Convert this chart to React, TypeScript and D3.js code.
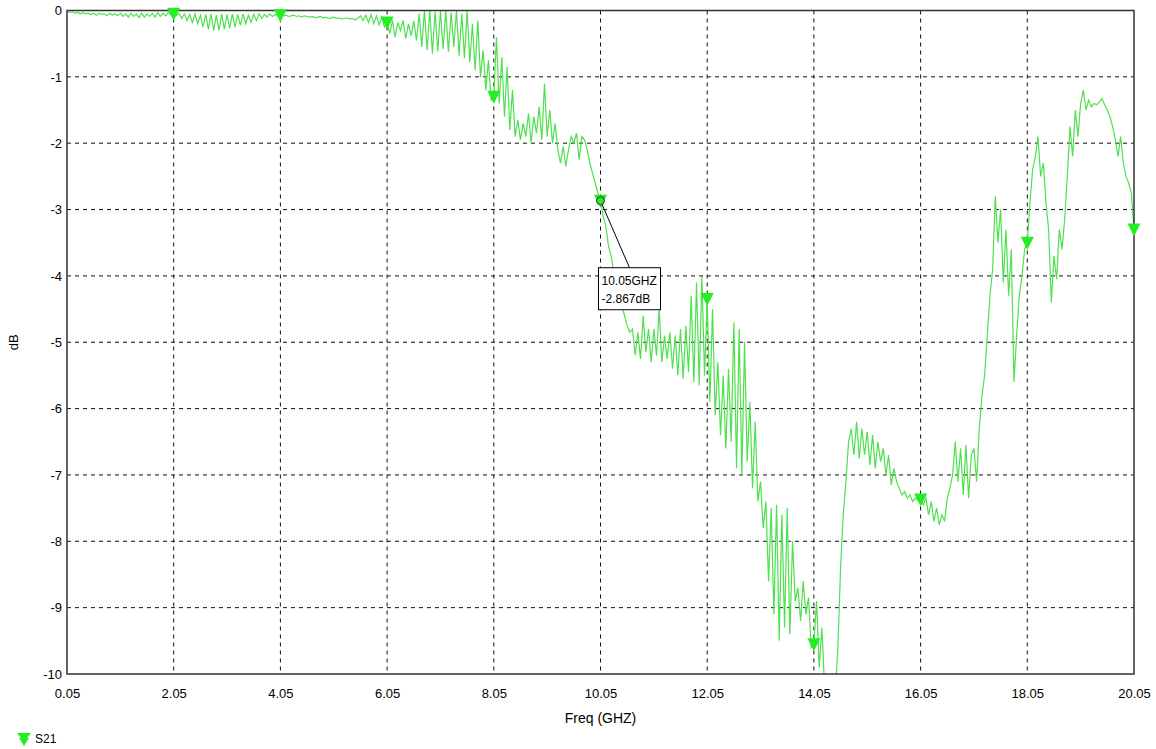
import React, { useEffect, useRef } from 'react'
import * as d3 from 'd3'

// S21 trace, one value every 0.05 GHz starting at 0.05 GHz (one row per GHz)
const s21Db = [
  -0.02, -0.03, -0.02, -0.04, -0.03, -0.05, -0.03, -0.05, -0.04, -0.06, -0.04, -0.07, -0.04, -0.06, -0.05, -0.08, -0.04, -0.07, -0.05, -0.08,
  -0.04, -0.09, -0.05, -0.1, -0.04, -0.09, -0.05, -0.11, -0.04, -0.1, -0.05, -0.09, -0.04, -0.1, -0.03, -0.09, -0.04, -0.08, -0.03, -0.07,
  -0.05, -0.08, -0.04, -0.12, -0.05, -0.15, -0.06, -0.18, -0.05, -0.2, -0.07, -0.25, -0.06, -0.28, -0.05, -0.3, -0.07, -0.3, -0.05, -0.28,
  -0.06, -0.27, -0.05, -0.25, -0.06, -0.22, -0.05, -0.2, -0.07, -0.18, -0.06, -0.15, -0.05, -0.12, -0.06, -0.1, -0.05, -0.09, -0.06, -0.08,
  -0.07, -0.08, -0.07, -0.09, -0.08, -0.07, -0.09, -0.08, -0.1, -0.08, -0.09, -0.1, -0.09, -0.11, -0.1, -0.09, -0.11, -0.1, -0.12, -0.11,
  -0.1, -0.12, -0.11, -0.13, -0.12, -0.11, -0.13, -0.12, -0.14, -0.12, -0.08, -0.15, -0.07, -0.18, -0.06, -0.2, -0.08, -0.22, -0.1, -0.25,
  -0.18, -0.35, -0.15, -0.4, -0.18, -0.3, -0.15, -0.42, -0.2, -0.38, -0.16, -0.45, -0.05, -0.55, 0, -0.6, 0, -0.65, -0.02, -0.62,
  0, -0.58, 0, -0.62, -0.03, -0.55, 0, -0.68, -0.05, -0.72, 0, -0.78, -0.2, -0.9, -0.15, -1.0, -0.6, -1.2, -0.75, -1.35,
  -1.3, -0.4, -1.4, -0.7, -1.6, -0.85, -1.8, -1.2, -1.9, -1.65, -1.95, -1.7, -1.9, -1.55, -2.0, -1.6, -1.85, -1.45, -1.95, -1.1,
  -1.9, -1.5, -2.0, -1.7, -2.1, -2.3, -2.05, -2.35, -2.1, -1.9, -2.0, -1.85, -2.25, -1.9, -1.95, -2.1, -2.3, -2.45, -2.6, -2.75,
  -2.867, -3.1, -3.25, -3.55, -3.7, -3.95, -4.05, -4.3, -4.45, -4.6, -4.75, -4.85, -4.8, -5.2, -4.85, -5.25, -4.6, -5.15, -4.8, -5.3,
  -4.8, -5.2, -4.5, -5.3, -4.9, -5.25, -4.85, -5.4, -4.9, -5.5, -4.8, -5.55, -4.75, -5.45, -4.3, -5.6, -4.1, -5.65, -4.0, -5.5,
  -4.35, -5.9, -4.5, -6.1, -5.3, -6.4, -5.5, -6.6, -5.4, -6.5, -4.7, -6.9, -4.8, -7.0, -5.0, -6.8, -5.9, -7.2, -6.2, -7.4,
  -7.1, -7.8, -7.4, -8.6, -7.5, -9.1, -7.45, -9.5, -7.6, -9.3, -7.5, -9.4, -8.0, -8.9, -8.7, -9.2, -8.6, -9.1, -8.85, -9.6,
  -9.55, -8.9, -9.9, -9.3, -10.2, -10.4, -10.6, -10.5, -10.3, -9.6, -8.4, -7.6, -7.1, -6.5, -6.3, -6.7, -6.2, -6.75, -6.3, -6.7,
  -6.35, -6.85, -6.4, -6.9, -6.5, -6.8, -6.6, -7.0, -6.7, -7.15, -6.9, -7.1, -7.2, -7.3, -7.25, -7.35, -7.3, -7.4, -7.35, -7.38,
  -7.37, -7.45, -7.35, -7.6, -7.4, -7.7, -7.5, -7.75, -7.6, -7.7, -7.35, -7.2, -7.0, -6.5, -7.1, -6.6, -7.3, -6.55, -7.35, -6.7,
  -6.6, -7.1, -6.3, -5.8, -5.5, -4.9, -4.3, -3.9, -2.8, -3.5, -3.0, -4.1, -3.3, -4.3, -3.6, -5.6, -4.9, -4.3, -4.0, -3.6,
  -3.5, -2.9, -2.4, -2.2, -1.9, -2.5, -2.3, -2.9, -3.3, -4.4, -3.7, -4.05, -3.3, -3.6, -3.15, -2.5, -1.75, -2.2, -1.5, -1.9,
  -1.4, -1.2, -1.5, -1.35, -1.45, -1.4, -1.42, -1.38, -1.33, -1.42, -1.5, -1.6, -1.75, -1.95, -2.2, -1.9, -2.3, -2.5, -2.6, -2.75,
  -3.3,
]
const startGhz = 0.05
const stepGhz = 0.05

const xTicks = [0.05, 2.05, 4.05, 6.05, 8.05, 10.05, 12.05, 14.05, 16.05, 18.05, 20.05]
const yTicks = [0, -1, -2, -3, -4, -5, -6, -7, -8, -9, -10]
const markerGhz = [2.05, 4.05, 6.05, 8.05, 10.05, 12.05, 14.05, 16.05, 18.05, 20.05]
const readoutGhz = 10.05
const seriesName = 'S21'

const FONT = '"Liberation Sans", Arial, sans-serif'
const GREEN = '#4fe04f'
const MARK = '#22ee22'

function dbAt(f: number) {
  return s21Db[Math.round((f - startGhz) / stepGhz)]
}

function App() {
  const ref = useRef<SVGSVGElement>(null)

  useEffect(() => {
    const W = 1156
    const H = 749
    const margin = { top: 10.5, right: 22, bottom: 75, left: 67 }

    const svg = d3.select(ref.current)
    svg.selectAll('*').remove()

    const x = d3.scaleLinear().domain([0.05, 20.05]).range([margin.left, W - margin.right])
    const y = d3.scaleLinear().domain([-10, 0]).range([H - margin.bottom, margin.top])

    const [x0, x1] = x.range()
    const [y0, y1] = y.range()

    svg.append('defs').append('clipPath').attr('id', 'plotclip')
      .append('rect')
      .attr('x', x0).attr('y', y1)
      .attr('width', x1 - x0).attr('height', y0 - y1)

    // grid
    svg.append('g')
      .selectAll('line')
      .data(xTicks.slice(1, -1))
      .enter()
      .append('line')
      .attr('x1', d => x(d)).attr('x2', d => x(d))
      .attr('y1', y1).attr('y2', y0)
      .attr('stroke', '#111')
      .attr('stroke-dasharray', '4,4')
    svg.append('g')
      .selectAll('line')
      .data(yTicks.slice(1, -1))
      .enter()
      .append('line')
      .attr('x1', x0).attr('x2', x1)
      .attr('y1', d => y(d)).attr('y2', d => y(d))
      .attr('stroke', '#111')
      .attr('stroke-dasharray', '4,4')

    // trace
    const pts = s21Db.map((v, i) => [startGhz + i * stepGhz, v] as [number, number])
    const line = d3.line<[number, number]>()
      .x(d => x(d[0]))
      .y(d => y(d[1]))
    svg.append('path')
      .datum(pts)
      .attr('clip-path', 'url(#plotclip)')
      .attr('d', line)
      .attr('fill', 'none')
      .attr('stroke', GREEN)
      .attr('stroke-width', 1.2)

    // frame
    svg.append('rect')
      .attr('x', x0).attr('y', y1)
      .attr('width', x1 - x0).attr('height', y0 - y1)
      .attr('fill', 'none')
      .attr('stroke', '#333')
      .attr('stroke-width', 1.5)

    // axes
    svg.append('g')
      .attr('transform', `translate(0, ${y0})`)
      .call(d3.axisBottom(x).tickValues(xTicks).tickSize(0).tickPadding(15)
        .tickFormat(d => (d as number).toFixed(2)))
      .call(g => g.select('.domain').remove())
      .selectAll('text')
        .style('font-family', FONT)
        .style('font-size', '13px')
        .attr('fill', '#000')

    svg.append('g')
      .attr('transform', `translate(${x0}, 0)`)
      .call(d3.axisLeft(y).tickValues(yTicks).tickSize(0).tickPadding(5)
        .tickFormat(d => String(d)))
      .call(g => g.select('.domain').remove())
      .selectAll('text')
        .style('font-family', FONT)
        .style('font-size', '13px')
        .attr('fill', '#000')

    svg.append('text')
      .attr('x', (x0 + x1) / 2)
      .attr('y', y0 + 49)
      .attr('text-anchor', 'middle')
      .style('font-family', FONT)
      .style('font-size', '14px')
      .text('Freq (GHZ)')

    svg.append('text')
      .attr('transform', `translate(18, ${(y0 + y1) / 2}) rotate(-90)`)
      .attr('text-anchor', 'middle')
      .style('font-family', FONT)
      .style('font-size', '13px')
      .text('dB')

    // markers
    const tri = 'M-6.5,-6L6.5,-6L0,7Z'
    svg.append('g')
      .selectAll('path')
      .data(markerGhz)
      .enter()
      .append('path')
      .attr('transform', d => `translate(${x(d)}, ${y(dbAt(d))})`)
      .attr('d', tri)
      .attr('fill', MARK)

    // readout at 10.05 GHz
    const rv = dbAt(readoutGhz)
    const rx = x(readoutGhz)
    const ry = y(rv)
    const bx = rx - 2
    const by = ry + 67
    svg.append('line')
      .attr('x1', rx).attr('y1', ry)
      .attr('x2', bx + 31).attr('y2', by)
      .attr('stroke', '#000')
    svg.append('circle')
      .attr('cx', rx).attr('cy', ry).attr('r', 4)
      .attr('fill', MARK)
      .attr('stroke', '#333')
      .attr('stroke-width', 1)
    svg.append('rect')
      .attr('x', bx).attr('y', by)
      .attr('width', 62).attr('height', 42)
      .attr('fill', '#fff')
      .attr('stroke', '#000')
    const lines = [`${readoutGhz.toFixed(2)}GHZ`, `${rv.toFixed(3)}dB`]
    svg.append('g')
      .selectAll('text')
      .data(lines)
      .enter()
      .append('text')
      .attr('x', bx + 3)
      .attr('y', (d, i) => by + 17 + i * 18)
      .style('font-family', FONT)
      .style('font-size', '12px')
      .text(d => d)

    // legend
    svg.append('path')
      .attr('transform', `translate(24, 738)`)
      .attr('d', 'M-7,-5L7,-5L3,0L5,0L0,8L-5,0L-3,0Z')
      .attr('fill', MARK)
    svg.append('text')
      .attr('x', 35)
      .attr('y', 743)
      .style('font-family', FONT)
      .style('font-size', '12px')
      .text(seriesName)
  }, [])

  return (
    <svg
      ref={ref}
      width={1156}
      height={749}
      style={{ position: 'absolute', left: 0, top: 0, background: '#fff' }}
    />
  )
}

export default App
